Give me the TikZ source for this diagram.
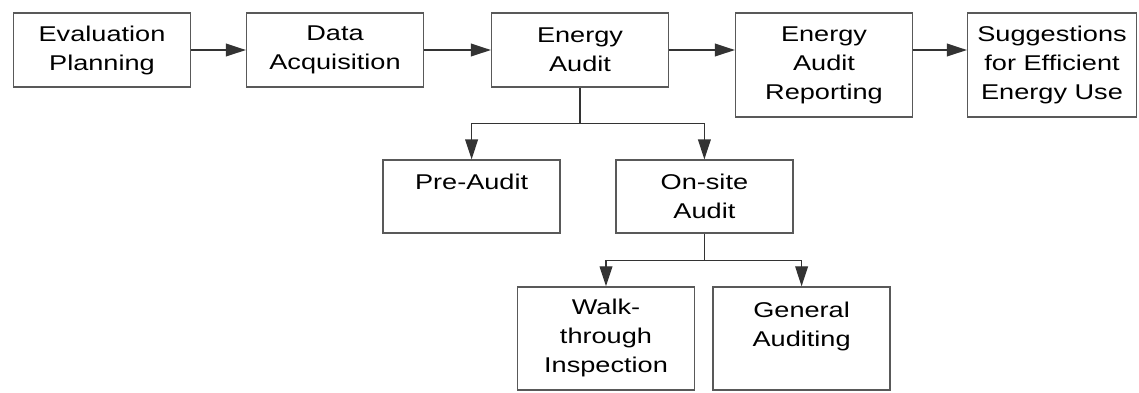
\documentclass[tikz,border=0pt]{standalone}
\usepackage{fontspec}
\setmainfont[FakeStretch=1.27]{Liberation Sans}
\usepackage{tikz}
\usetikzlibrary{arrows.meta}

\begin{document}
\begin{tikzpicture}[node distance=6cm, auto,
    block/.style={draw=black!65, line width=0.9pt, rectangle, align=center, inner sep=0pt,
      minimum width=4.425cm, minimum height=1.85cm, font=\fontsize{15.2}{20.6}\selectfont},
    link/.style={draw=black!80, line width=0.9pt},
    arr/.style={link, -{Triangle[length=0.5cm, width=0.32cm]}}]

    \useasboundingbox (0,0) rectangle (28.475,-9.8);

    \node [block] at (2.55,-1.25) (plan) {Evaluation\\Planning};
    \node [block, right of=plan, xshift=-0.175cm] (acq) {Data\\Acquisition};
    \node [block, right of=acq, xshift=0.125cm] (audit) {Energy\\Audit};
    \node [block, right of=audit, xshift=0.1cm, yshift=-0.375cm, minimum height=2.6cm] (report) {Energy\\Audit\\Reporting};
    \node [block, right of=report, xshift=-0.3cm, minimum width=4.225cm, minimum height=2.6cm] (suggest) {Suggestions\\for Efficient\\Energy Use};
    \node [block, below of=audit, xshift=-2.71cm, yshift=2.3375cm, minimum height=1.825cm] (pre) {Pre-Audit\\ \mbox{}};
    \node [block, right of=pre, xshift=-0.18cm, minimum height=1.825cm] (onsite) {On-site\\Audit};
    \node [block, below of=onsite, xshift=-2.46cm, yshift=2.4525cm, minimum height=2.575cm] (walk) {Walk-\\through\\Inspection};
    \node [block, right of=walk, xshift=-1.11cm, minimum height=2.575cm] (general) {General\\Auditing\\ \mbox{}};

    \coordinate (fork1) at ([yshift=-0.9cm]audit.south);
    \coordinate (fork2) at ([yshift=-0.675cm]onsite.south);

    \draw [arr] (plan) -- (acq);
    \draw [arr] (acq) -- (audit);
    \draw [arr] (audit.east) -- (audit.east -| report.west);
    \draw [arr] (report.east |- audit.east) -- (suggest.west |- audit.east);
    \draw [link] (audit.south) -- (fork1);
    \draw [arr] (fork1) -| (pre.north);
    \draw [arr] (fork1) -| (onsite.north);
    \draw [link] (onsite.south) -- (fork2);
    \draw [arr] (fork2) -| (walk.north);
    \draw [arr] (fork2) -| (general.north);
\end{tikzpicture}
\end{document}
